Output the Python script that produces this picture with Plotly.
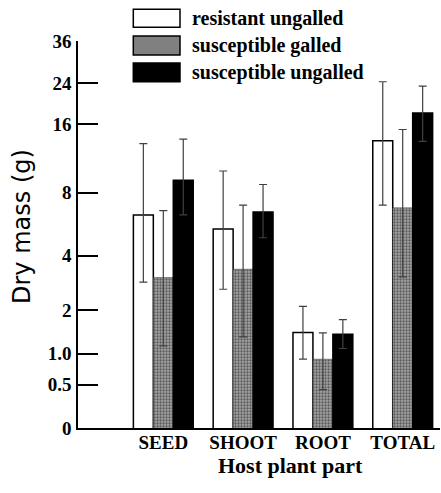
import plotly.graph_objects as go

categories = ["SEED", "SHOOT", "ROOT", "TOTAL"]
series_names = ["resistant ungalled", "susceptible galled", "susceptible ungalled"]

resistant_ungalled = [6.3, 5.4, 1.44, 13.6]
resistant_ungalled_lo = [2.9, 2.65, 0.90, 7.0]
resistant_ungalled_hi = [13.2, 10.0, 2.11, 24.3]

susceptible_galled = [3.07, 3.4, 0.90, 6.8]
susceptible_galled_lo = [1.15, 1.34, 0.43, 3.1]
susceptible_galled_hi = [6.6, 7.0, 1.43, 15.2]

susceptible_ungalled = [9.1, 6.5, 1.40, 17.9]
susceptible_ungalled_lo = [6.3, 4.9, 1.10, 13.5]
susceptible_ungalled_hi = [13.8, 8.7, 1.75, 23.3]

tick_values = [0, 0.5, 1.0, 2, 4, 8, 16, 24, 36]
tick_labels = ["0", "0.5", "1.0", "2", "4", "8", "16", "24", "36"]

W, H = 441, 493
ML, MR, MT, MB = 78, 1, 41, 65
PW, PH = W - ML - MR, H - MT - MB

SERIF = "Liberation Serif, Times New Roman, serif"

def px_x(p):
    return (p - ML) / PW

def px_y(p):
    return (H - MB - p) / PH

series = [
    (resistant_ungalled, resistant_ungalled_lo, resistant_ungalled_hi,
     dict(color="white", line=dict(color="black", width=1.5))),
    (susceptible_galled, susceptible_galled_lo, susceptible_galled_hi,
     dict(color="#808080", line=dict(color="#333333", width=0.5),
          pattern=dict(shape=".", fgcolor="#101010", bgcolor="#a4a4a4", size=3, solidity=0.45))),
    (susceptible_ungalled, susceptible_ungalled_lo, susceptible_ungalled_hi,
     dict(color="black", line=dict(color="black", width=1.5))),
]

fig = go.Figure()
for name, (vals, lo, hi, marker) in zip(series_names, series):
    fig.add_trace(go.Bar(
        name=name,
        x=categories,
        y=[v + 1 for v in vals],  # plotted on log(x+1) scale
        marker=marker,
        error_y=dict(type="data", symmetric=False,
                     array=[h - v for h, v in zip(hi, vals)],
                     arrayminus=[v - l for v, l in zip(vals, lo)],
                     color="#404040", thickness=1.2, width=4),
        showlegend=False,
    ))

unit = 79.8
fig.update_layout(
    width=W, height=H,
    margin=dict(l=ML, r=MR, t=MT, b=MB),
    paper_bgcolor="white", plot_bgcolor="white",
    barmode="group", bargap=0.25, bargroupgap=0,
    xaxis=dict(
        range=[(ML - 163.3) / unit, (W - MR - 163.3) / unit],
        showline=True, linecolor="black", linewidth=1.5,
        ticks="", showgrid=False, zeroline=False,
        tickfont=dict(family=SERIF, size=19, color="black", weight="bold"),
        ticklabelstandoff=-4,
    ),
    yaxis=dict(
        type="log",
        range=[0, 1.5682],
        tickvals=[t + 1 for t in tick_values],
        ticktext=tick_labels,
        showline=True, linecolor="black", linewidth=1.5,
        ticks="inside", ticklen=20, tickwidth=1.5, tickcolor="black",
        showgrid=False, zeroline=False,
        tickfont=dict(family=SERIF, size=19, color="black", weight="bold"),
        ticklabelstandoff=1,
    ),
)

fig.add_annotation(
    text="Dry mass (g)", textangle=-90,
    x=px_x(22), y=px_y(227), xref="paper", yref="paper",
    showarrow=False, xanchor="center", yanchor="middle",
    font=dict(family="DejaVu Sans", size=24, color="black"),
)
fig.add_annotation(
    text="Host plant part",
    x=px_x(290.5), y=px_y(465), xref="paper", yref="paper",
    showarrow=False, xanchor="center", yanchor="middle",
    font=dict(family=SERIF, size=22, color="black", weight="bold"),
)

legend_fills = ["white", "#808080", "black"]
legend_rows = [(9.3, 27.3), (36, 55), (63, 81.7)]
for name, fill, (t, b) in zip(series_names, legend_fills, legend_rows):
    fig.add_shape(type="rect", xref="paper", yref="paper",
                  x0=px_x(133.3), x1=px_x(180), y0=px_y(b), y1=px_y(t),
                  fillcolor=fill, line=dict(color="black", width=1.5))
    fig.add_annotation(
        text=name, x=px_x(190), y=px_y((t + b) / 2), xref="paper", yref="paper",
        showarrow=False, xanchor="left", yanchor="middle",
        font=dict(family=SERIF, size=20, color="black", weight="bold"),
    )

fig.write_html("out.html")
